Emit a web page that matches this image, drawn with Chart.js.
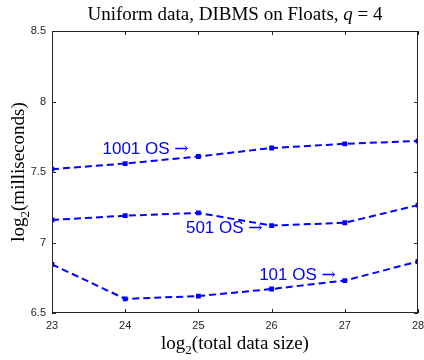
<!DOCTYPE html>
<html>
<head>
<meta charset="utf-8">
<script src="https://cdn.jsdelivr.net/npm/chart.js@4"></script>
<style>
  html, body { margin: 0; padding: 0; background: #fff; }
  #c { display: block; }
</style>
</head>
<body>
<canvas id="c" width="424" height="360"></canvas>
<script>
'use strict';

const sizes = [23, 24, 25, 26, 27, 28];
const os1001 = [7.52, 7.56, 7.61, 7.67, 7.70, 7.72];
const os501 = [7.16, 7.19, 7.21, 7.12, 7.14, 7.265];
const os101 = [6.845, 6.60, 6.62, 6.67, 6.73, 6.865];
const yTicks = [6.5, 7, 7.5, 8, 8.5];
const labels = [
    { text: '1001 OS', x: 23.69, y: 7.66 },
    { text: '501 OS', x: 24.83, y: 7.10 },
    { text: '101 OS', x: 25.83, y: 6.765 }
];

const blue = '#0000ff';
const ink = '#262626';
const serif = '"Liberation Serif", "DejaVu Serif", serif';

function series(ys) {
    return {
        data: sizes.map((x, i) => ({ x, y: ys[i] })),
        borderColor: blue,
        backgroundColor: blue,
        borderWidth: 2,
        borderDash: [7, 4],
        pointRadius: 2,
        pointStyle: 'rect',
        tension: 0
    };
}

// draws "log" + lowered small "2" + rest, centred on the origin
function drawLog2(ctx, rest, size) {
    const big = size + 'px ' + serif;
    const small = Math.round(size * 0.7) + 'px ' + serif;
    ctx.font = big;
    const w1 = ctx.measureText('log').width;
    const w3 = ctx.measureText(rest).width;
    ctx.font = small;
    const w2 = ctx.measureText('2').width;
    let x = -(w1 + w2 + w3) / 2;
    ctx.textAlign = 'left';
    ctx.textBaseline = 'alphabetic';
    ctx.font = big;
    ctx.fillText('log', x, 0);
    x += w1;
    ctx.font = small;
    ctx.fillText('2', x, size * 0.25);
    x += w2;
    ctx.font = big;
    ctx.fillText(rest, x, 0);
}

const frame = {
    id: 'frame',
    afterDatasetsDraw(chart) {
        const { ctx, chartArea: a, scales } = chart;
        ctx.save();
        ctx.strokeStyle = ink;
        ctx.lineWidth = 1;
        ctx.strokeRect(a.left + 0.5, a.top + 0.5, a.right - a.left - 1, a.bottom - a.top - 1);
        ctx.beginPath();
        sizes.forEach(v => {
            const px = Math.round(scales.x.getPixelForValue(v)) + 0.5;
            ctx.moveTo(px, a.bottom); ctx.lineTo(px, a.bottom - 4);
            ctx.moveTo(px, a.top); ctx.lineTo(px, a.top + 4);
        });
        yTicks.forEach(v => {
            const py = Math.round(scales.y.getPixelForValue(v)) + 0.5;
            ctx.moveTo(a.left, py); ctx.lineTo(a.left + 4, py);
            ctx.moveTo(a.right, py); ctx.lineTo(a.right - 4, py);
        });
        ctx.stroke();

        // tick labels
        ctx.fillStyle = ink;
        ctx.font = '11px "Liberation Sans", Arial, sans-serif';
        ctx.textAlign = 'center';
        ctx.textBaseline = 'top';
        sizes.forEach(v => {
            ctx.fillText(String(v), scales.x.getPixelForValue(v), a.bottom + 7);
        });
        ctx.textAlign = 'right';
        ctx.textBaseline = 'middle';
        yTicks.forEach(v => {
            ctx.fillText(String(v), a.left - 6, scales.y.getPixelForValue(v));
        });

        // title
        const cx = (a.left + a.right) / 2;
        ctx.fillStyle = '#000';
        ctx.textBaseline = 'alphabetic';
        const tf = '19px ' + serif;
        const tfi = 'italic 19px ' + serif;
        const parts = [['Uniform data, DIBMS on Floats, ', tf], ['q', tfi], [' = 4', tf]];
        let tw = 0;
        parts.forEach(p => { ctx.font = p[1]; tw += ctx.measureText(p[0]).width; });
        let tx = cx - tw / 2;
        ctx.textAlign = 'left';
        parts.forEach(p => {
            ctx.font = p[1];
            ctx.fillText(p[0], tx, 20);
            tx += ctx.measureText(p[0]).width;
        });

        // axis titles
        ctx.save();
        ctx.translate(cx, 349);
        drawLog2(ctx, '(total data size)', 19);
        ctx.restore();
        ctx.save();
        ctx.translate(24, (a.top + a.bottom) / 2);
        ctx.rotate(-Math.PI / 2);
        drawLog2(ctx, '(milliseconds)', 19);
        ctx.restore();

        // series labels
        ctx.fillStyle = blue;
        ctx.textBaseline = 'middle';
        ctx.textAlign = 'left';
        labels.forEach(l => {
            const lx = scales.x.getPixelForValue(l.x);
            const ly = scales.y.getPixelForValue(l.y);
            ctx.font = '17px "Liberation Sans", Arial, sans-serif';
            ctx.fillText(l.text, lx, ly);
            const w = ctx.measureText(l.text + ' ').width;
            ctx.font = '17px "DejaVu Serif", serif';
            ctx.fillText('\u2192', lx + w, ly);
        });
        ctx.restore();
    }
};

new Chart(document.getElementById('c').getContext('2d'), {
    type: 'line',
    data: { datasets: [series(os1001), series(os501), series(os101)] },
    options: {
        responsive: false,
        animation: false,
        layout: { padding: { top: 31, right: 5, left: 52, bottom: 47 } },
        plugins: { legend: { display: false }, tooltip: { enabled: false } },
        scales: {
            x: { type: 'linear', min: 23, max: 28, display: false },
            y: { min: 6.5, max: 8.5, display: false }
        }
    },
    plugins: [frame]
});
</script>
</body>
</html>
